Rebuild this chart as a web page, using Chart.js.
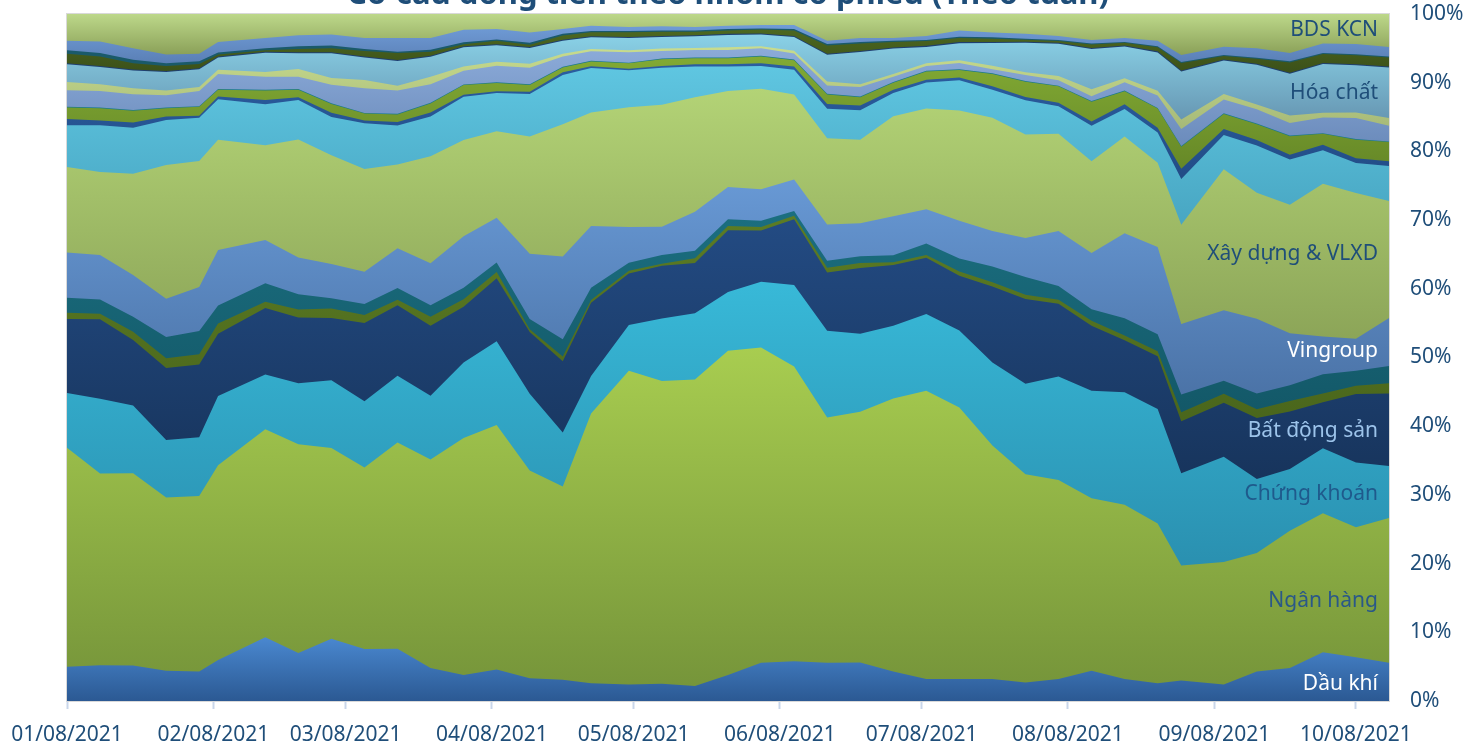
<!DOCTYPE html>
<html lang="vi">
<head>
<meta charset="UTF-8">
<title>Cơ cấu dòng tiền theo nhóm cổ phiếu (Theo tuần)</title>
<script src="https://cdn.jsdelivr.net/npm/chart.js"></script>
<style>
  html, body { margin: 0; padding: 0; background: #ffffff; }
  #wrap { width: 1479px; height: 742px; position: relative; }
</style>
</head>
<body>
<div id="wrap"><canvas id="chart" width="1479" height="742"></canvas></div>
<script>
// weekly closing dates (holiday weeks end early)
const weeks = ['2021-01-08','2021-01-15','2021-01-22','2021-01-29','2021-02-05','2021-02-09','2021-02-19','2021-02-26',
  '2021-03-05','2021-03-12','2021-03-19','2021-03-26','2021-04-02','2021-04-09','2021-04-16','2021-04-23','2021-04-29',
  '2021-05-07','2021-05-14','2021-05-21','2021-05-28','2021-06-04','2021-06-11','2021-06-18','2021-06-25',
  '2021-07-02','2021-07-09','2021-07-16','2021-07-23','2021-07-30','2021-08-06','2021-08-13','2021-08-20','2021-08-27',
  '2021-09-01','2021-09-10','2021-09-17','2021-09-24','2021-10-01','2021-10-08','2021-10-15'];

const tickDates = ['2021-01-08','2021-02-08','2021-03-08','2021-04-08','2021-05-08','2021-06-08','2021-07-08','2021-08-08','2021-09-08','2021-10-08'];
const tickLabels = ['01/08/2021','02/08/2021','03/08/2021','04/08/2021','05/08/2021','06/08/2021','07/08/2021','08/08/2021','09/08/2021','10/08/2021'];

// shares of traded value (%), bottom of the stack first
const dauKhi = [5.0,5.2,5.2,4.4,4.3,6.0,9.3,7.0,9.1,7.6,7.6,4.8,3.8,4.6,3.3,3.1,2.6,2.4,2.5,2.2,3.8,5.6,5.8,5.6,5.6,4.3,3.2,3.2,3.2,2.7,3.2,4.4,3.2,2.6,3.0,2.4,4.3,4.8,7.1,6.4,5.6];
const nganHang = [32.0,28.0,28.1,25.3,25.6,28.4,30.3,30.5,27.9,26.5,30.1,30.4,34.5,35.6,30.3,28.2,39.4,45.8,44.2,44.7,47.3,46.0,43.0,35.8,36.6,39.9,42.1,39.6,34.1,30.4,29.0,25.2,25.4,23.3,16.8,17.9,17.3,20.0,20.3,19.0,21.1];
const chungKhoan = [8.0,10.9,9.9,8.4,8.6,10.1,8.0,8.9,9.9,9.7,9.7,9.3,11.0,12.2,11.2,7.9,5.5,6.7,9.1,9.7,8.6,9.6,11.9,12.7,11.4,10.6,11.2,11.2,12.1,13.2,15.1,15.7,16.4,16.7,13.5,15.4,10.8,9.0,9.5,9.5,7.6];
const batDongSan = [10.8,11.6,9.6,10.5,10.6,9.1,9.7,9.6,9.1,11.4,10.3,10.2,8.1,9.2,9.0,10.4,10.7,7.5,7.7,7.3,9.0,7.5,9.6,8.5,9.6,8.9,8.2,8.0,11.1,12.4,10.6,9.5,7.6,7.7,7.6,7.9,8.9,8.4,6.7,10.0,10.6];
const nhom5 = [0.9,0.8,1.2,1.4,1.5,1.5,0.9,1.2,1.4,1.2,0.8,1.3,1.1,0.9,0.4,0.7,0.4,0.4,0.3,0.7,0.6,0.5,0.5,0.7,0.7,0.4,0.4,0.6,0.6,0.6,0.6,0.7,0.7,0.7,1.3,1.3,1.3,1.5,1.3,1.2,1.5];
const nhom6 = [2.2,2.1,2.2,3.1,3.4,2.6,2.7,2.2,1.5,1.6,1.7,1.7,1.7,1.4,1.5,2.5,1.8,1.2,1.3,1.1,1.0,0.9,0.7,1.0,1.0,1.0,1.7,1.9,2.3,2.6,2.0,1.7,2.5,2.5,2.6,1.9,2.3,2.3,2.8,2.2,2.5];
const vingroup = [6.6,6.5,6.1,5.6,6.4,8.1,6.3,5.4,5.0,4.7,5.8,6.1,7.5,6.5,9.5,12.1,9.0,5.2,4.1,5.7,4.7,4.6,4.6,5.3,4.8,5.7,5.0,5.5,5.2,5.7,8.0,8.2,12.4,12.7,10.3,10.3,10.9,7.6,5.5,4.7,7.0];
const xayDung = [12.5,12.1,14.8,19.5,18.4,16.1,13.8,17.2,15.9,15.0,12.2,15.6,14.0,12.6,17.1,19.3,16.6,17.5,17.8,16.7,14.0,14.7,12.4,12.6,12.2,14.6,14.7,16.1,16.5,15.1,14.2,13.4,14.1,12.3,14.5,20.6,18.4,18.7,22.3,21.3,17.1];
const nhom9 = [6.1,6.8,6.7,6.6,6.3,5.9,6.0,5.8,5.6,6.7,5.7,5.8,6.3,5.6,6.2,7.2,6.5,5.4,5.4,4.5,3.6,3.3,3.6,4.3,4.3,3.4,3.8,4.4,4.1,5.0,4.0,5.2,4.0,4.4,6.7,5.0,6.9,6.6,4.9,4.4,5.1];
const nhom10 = [0.9,0.7,0.8,0.5,0.3,0.4,0.6,0.4,0.6,0.4,0.5,0.6,0.3,0.25,0.3,0.4,0.25,0.2,0.25,0.3,0.3,0.4,0.5,0.7,0.7,0.5,0.4,0.4,0.5,0.5,0.5,0.6,0.7,0.7,1.5,0.9,0.8,0.7,0.8,0.7,0.7];
const nhom11 = [1.7,1.8,1.7,1.2,1.3,1.0,1.4,1.1,1.3,1.0,1.1,1.3,1.4,1.2,1.0,0.7,0.7,0.8,1.0,0.9,0.9,1.0,0.9,1.4,1.2,1.0,1.2,1.1,1.8,2.2,2.4,2.9,1.9,2.8,3.2,2.2,2.3,2.7,1.6,2.7,2.8];
const nhom12 = [0.1,0.1,0.1,0.1,0.1,0.1,0.1,0.1,0.1,0.1,0.1,0.1,0.1,0.1,0.1,0.1,0.1,0.1,0.1,0.1,0.1,0.1,0.1,0.1,0.1,0.1,0.1,0.1,0.1,0.1,0.1,0.1,0.1,0.1,0.1,0.1,0.1,0.1,0.1,0.1,0.1];
const nhom13 = [2.4,2.4,2.3,1.8,2.2,2.2,1.9,1.8,2.7,3.6,3.4,2.7,2.0,2.4,2.4,1.5,1.4,1.5,1.1,1.1,1.1,1.1,0.9,1.2,1.4,0.8,0.7,0.9,0.6,0.9,0.8,0.7,1.2,1.8,2.5,2.0,2.1,1.8,2.3,3.1,2.3];
const nhom14 = [1.2,1.0,0.9,0.7,0.6,0.6,0.7,1.1,1.0,1.2,0.7,1.1,0.6,0.6,0.6,0.4,0.35,0.3,0.35,0.3,0.4,0.3,0.4,0.6,0.4,0.4,0.4,0.4,0.5,0.4,0.6,1.0,0.6,0.7,1.4,0.8,0.7,1.1,0.7,0.8,1.1];
const hoaChat = [2.6,2.5,2.6,2.7,2.6,1.8,2.8,2.3,3.6,3.3,3.6,2.9,2.8,2.4,2.3,1.9,1.7,1.8,1.7,1.7,1.8,1.7,2.0,3.9,4.7,3.7,2.4,2.5,3.3,4.3,4.7,5.9,4.6,5.6,7.0,4.9,5.8,6.1,7.1,6.9,7.4];
const nhom16 = [0.15,0.15,0.15,0.15,0.15,0.15,0.15,0.15,0.15,0.15,0.15,0.15,0.15,0.15,0.15,0.15,0.15,0.15,0.15,0.15,0.15,0.15,0.15,0.15,0.15,0.15,0.15,0.15,0.15,0.15,0.15,0.15,0.15,0.15,0.15,0.15,0.15,0.15,0.15,0.15,0.15];
const nhom17 = [1.4,1.4,0.9,0.7,0.6,0.3,0.2,0.5,0.6,0.8,1.0,0.6,0.3,0.5,0.3,0.6,0.6,0.7,0.6,0.5,0.5,0.6,0.8,1.2,1.1,0.8,0.7,0.6,0.5,0.3,0.25,0.5,0.4,0.6,1.1,0.5,0.7,1.5,1.3,1.3,1.3];
const nhom18 = [0.5,0.5,0.5,0.4,0.4,0.3,0.3,0.4,0.4,0.3,0.2,0.3,0.3,0.2,0.3,0.25,0.15,0.15,0.2,0.2,0.2,0.15,0.2,0.2,0.2,0.2,0.15,0.2,0.2,0.15,0.15,0.15,0.1,0.15,0.15,0.15,0.15,0.15,0.15,0.15,0.15];
const nhom19 = [1.4,1.7,1.7,1.3,1.1,1.5,1.5,1.6,1.6,1.6,2.0,1.7,1.8,1.5,1.5,0.7,0.8,0.6,0.6,0.5,0.5,0.5,0.6,0.5,0.6,0.4,0.6,0.9,0.7,0.7,0.6,0.5,0.6,0.8,1.0,1.2,1.4,1.2,1.4,1.5,1.4];
const bdsKcn = [3.9,4.0,5.0,5.9,5.8,4.1,3.5,3.1,3.0,3.5,3.5,3.5,2.3,2.2,2.7,2.2,1.7,1.9,1.8,1.9,1.7,1.6,1.6,3.9,3.5,3.5,3.2,2.4,2.7,2.9,3.2,3.8,3.5,3.9,6.0,4.8,5.0,5.7,4.3,4.4,4.8];

const seriesNames = ['Dầu khí','Ngân hàng','Chứng khoán','Bất động sản','Nhóm 5','Nhóm 6','Vingroup','Xây dựng & VLXD',
  'Nhóm 9','Nhóm 10','Nhóm 11','Nhóm 12','Nhóm 13','Nhóm 14','Hóa chất','Nhóm 16','Nhóm 17','Nhóm 18','Nhóm 19','BDS KCN'];
const seriesValues = [dauKhi,nganHang,chungKhoan,batDongSan,nhom5,nhom6,vingroup,xayDung,nhom9,nhom10,nhom11,nhom12,
  nhom13,nhom14,hoaChat,nhom16,nhom17,nhom18,nhom19,bdsKcn];

// gradient [top, bottom] per series
const seriesColors = [
  ['#4a88d0','#2b5993'], ['#a8cd50','#76953a'], ['#38b9d8','#2a90b0'], ['#234b83','#17345c'],
  ['#5c7c24','#4a661c'], ['#1b6f80','#135868'], ['#6899d5','#4b73a7'], ['#b3d376','#8ca558'],
  ['#5fc6e1','#48a6c2'], ['#2b5da0','#224c86'], ['#82aa34','#668827'], ['#1a7a8a','#1a7a8a'],
  ['#8cabd9','#6b8bbb'], ['#c8dc8e','#a6b978'], ['#8ad2e7','#6797b3'], ['#1f3f70','#1f3f70'],
  ['#4d6820','#3b5019'], ['#1a5a6a','#1a5a6a'], ['#709cd7','#5a7fb5'], ['#bdd88a','#8aa058']
];

const labelSpots = [
  { text: 'BDS KCN', at: 97.7, color: '#1f4e79' },
  { text: 'Hóa chất', at: 88.5, color: '#1f4e79' },
  { text: 'Xây dựng & VLXD', at: 65.1, color: '#1f4e79' },
  { text: 'Vingroup', at: 50.9, color: '#ffffff' },
  { text: 'Bất động sản', at: 39.3, color: '#9cc3ea' },
  { text: 'Chứng khoán', at: 30.1, color: '#1f5a8c' },
  { text: 'Ngân hàng', at: 14.6, color: '#2a5888' },
  { text: 'Dầu khí', at: 2.5, color: '#ffffff' }
];

const DAY = 86400000;
const t0 = Date.parse(weeks[0]);
const dayOf = d => Math.round((Date.parse(d) - t0) / DAY);
const weekDays = weeks.map(dayOf);
const tickDays = tickDates.map(dayOf);

// 100% stacked: turn each week into shares of the total
const totals = weeks.map((_, j) => seriesValues.reduce((s, arr) => s + arr[j], 0));
const shares = seriesValues.map(arr => arr.map((v, j) => v / totals[j] * 100));
const cumTop = [];
shares.forEach((arr, i) => cumTop.push(arr.map((v, j) => v + (i ? cumTop[i - 1][j] : 0))));

const axisColor = '#1f4e79';
const uiFont = '"Noto Sans", "DejaVu Sans", sans-serif';

function bandGradient(ctx) {
  const chart = ctx.chart;
  const i = ctx.datasetIndex;
  const c = seriesColors[i];
  const ys = chart.scales && chart.scales.y;
  if (!chart.chartArea || !ys) return c[0];
  const top = ys.getPixelForValue(Math.max(...cumTop[i]));
  const bot = ys.getPixelForValue(i === 0 ? 0 : Math.min(...cumTop[i - 1]));
  const g = chart.ctx.createLinearGradient(0, top, 0, Math.max(bot, top + 2));
  g.addColorStop(0, c[0]);
  g.addColorStop(1, c[1]);
  return g;
}

const decorations = {
  id: 'decorations',
  afterDatasetsDraw(chart) {
    const { ctx, chartArea: a, scales: { y } } = chart;
    ctx.save();
    // plot frame
    ctx.strokeStyle = '#d9d9d9';
    ctx.lineWidth = 1;
    ctx.strokeRect(a.left - 0.5, a.top - 0.5, a.right - a.left + 1, a.bottom - a.top + 1);
    // series labels at the right edge
    ctx.font = '21px ' + uiFont;
    ctx.textAlign = 'right';
    ctx.textBaseline = 'middle';
    labelSpots.forEach(s => {
      ctx.fillStyle = s.color;
      ctx.fillText(s.text, a.right - 11, y.getPixelForValue(s.at));
    });
    // title (cut off at the top as in the source)
    ctx.font = 'bold 31px ' + uiFont;
    ctx.textAlign = 'center';
    ctx.textBaseline = 'alphabetic';
    ctx.fillStyle = axisColor;
    ctx.fillText('Cơ cấu dòng tiền theo nhóm cổ phiếu (Theo tuần)', 728, 4);
    ctx.restore();
  }
};

new Chart(document.getElementById('chart'), {
  type: 'line',
  data: {
    datasets: shares.map((arr, i) => ({
      label: seriesNames[i],
      data: arr.map((v, j) => ({ x: weekDays[j], y: v })),
      fill: 'origin',
      backgroundColor: bandGradient,
      borderWidth: 0,
      pointRadius: 0,
      pointHoverRadius: 0,
      tension: 0
    }))
  },
  options: {
    responsive: false,
    devicePixelRatio: 1,
    animation: false,
    layout: { padding: { left: 67, top: 14, right: 0, bottom: 0 } },
    plugins: { legend: { display: false }, tooltip: { enabled: false } },
    scales: {
      x: {
        type: 'linear',
        min: 0,
        max: weekDays[weekDays.length - 1],
        afterBuildTicks: s => { s.ticks = tickDays.map(v => ({ value: v })); },
        afterFit: s => { s.height = 41; s.paddingLeft = 0; s.paddingRight = 0; },
        ticks: {
          autoSkip: false,
          maxRotation: 0,
          padding: 13,
          color: axisColor,
          font: { family: uiFont, size: 21 },
          callback: (v, idx) => tickLabels[idx]
        },
        grid: { drawOnChartArea: false, drawTicks: true, tickLength: 8, tickColor: '#c9d6ea', tickWidth: 2 },
        border: { display: true, color: '#d4d4d4', width: 2 }
      },
      y: {
        type: 'linear',
        stacked: true,
        position: 'right',
        min: 0,
        max: 100,
        afterFit: s => { s.width = 90; s.paddingTop = 0; s.paddingBottom = 0; },
        ticks: {
          stepSize: 10,
          padding: 21,
          color: axisColor,
          font: { family: uiFont, size: 21 },
          callback: v => v + '%'
        },
        grid: { display: false, drawTicks: false },
        border: { display: false }
      }
    }
  },
  plugins: [decorations]
});
</script>
</body>
</html>
